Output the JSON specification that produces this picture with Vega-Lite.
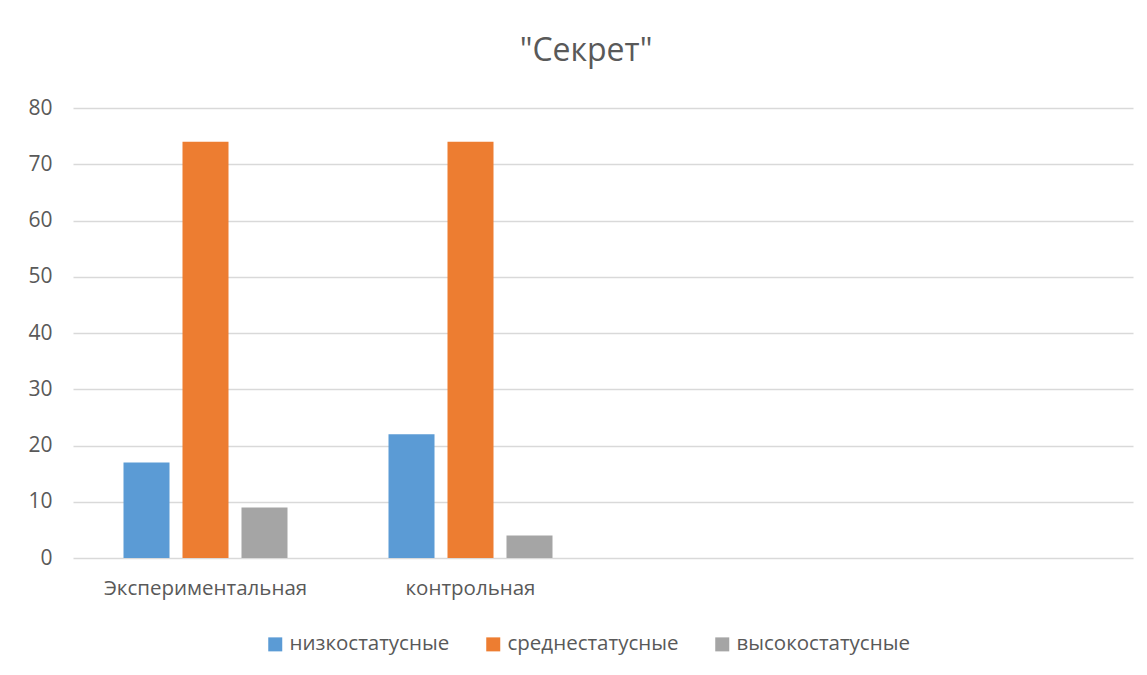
{
  "$schema": "https://vega.github.io/schema/vega-lite/v6.json",
  "width": 1060,
  "height": 450,
  "autosize": {"type": "none"},
  "padding": {"left": 73, "top": 108, "right": 14, "bottom": 117},
  "background": "white",
  "title": {
    "text": "\"Секрет\"",
    "anchor": "middle",
    "frame": "group",
    "dx": -17,
    "offset": 29,
    "fontSize": 32,
    "font": "Open Sans",
    "fontWeight": "normal",
    "color": "#595959"
  },
  "data": {
    "values": [
      {"group": "Экспериментальная", "status": "низкостатусные", "value": 17},
      {"group": "Экспериментальная", "status": "среднестатусные", "value": 74},
      {"group": "Экспериментальная", "status": "высокостатусные", "value": 9},
      {"group": "контрольная", "status": "низкостатусные", "value": 22},
      {"group": "контрольная", "status": "среднестатусные", "value": 74},
      {"group": "контрольная", "status": "высокостатусные", "value": 4}
    ]
  },
  "mark": {"type": "bar"},
  "encoding": {
    "x": {
      "field": "group",
      "type": "nominal",
      "sort": null,
      "scale": {"domain": ["Экспериментальная", "контрольная", " ", "  "], "paddingInner": 0, "paddingOuter": 0},
      "axis": {
        "title": null,
        "labelAngle": 0,
        "ticks": false,
        "domain": false,
        "labelPadding": 20,
        "labelLimit": 0,
        "labelFontSize": 20.5,
        "labelFont": "Open Sans",
        "labelColor": "#595959"
      }
    },
    "xOffset": {
      "field": "status",
      "type": "nominal",
      "sort": ["низкостатусные", "среднестатусные", "высокостатусные"],
      "scale": {"paddingInner": 0.22, "paddingOuter": 0.856}
    },
    "y": {
      "field": "value",
      "type": "quantitative",
      "scale": {"domain": [0, 80], "nice": false},
      "axis": {
        "title": null,
        "values": [0, 10, 20, 30, 40, 50, 60, 70, 80],
        "ticks": false,
        "domain": false,
        "labelPadding": 21,
        "labelFontSize": 21,
        "labelFont": "Open Sans",
        "labelColor": "#595959",
        "gridColor": "#d9d9d9",
        "gridWidth": 1.5
      }
    },
    "color": {
      "field": "status",
      "type": "nominal",
      "sort": ["низкостатусные", "среднестатусные", "высокостатусные"],
      "scale": {
        "domain": ["низкостатусные", "среднестатусные", "высокостатусные"],
        "range": ["#5B9BD5", "#ED7D31", "#A5A5A5"]
      },
      "legend": {
        "title": null,
        "orient": "none",
        "direction": "horizontal",
        "legendX": 192,
        "legendY": 526,
        "symbolType": "square",
        "symbolSize": 196,
        "symbolStrokeWidth": 0,
        "symbolOpacity": 1,
        "labelFontSize": 20.5,
        "labelFont": "Open Sans",
        "labelColor": "#595959",
        "labelLimit": 0,
        "columnPadding": 33,
        "labelOffset": 4
      }
    }
  },
  "config": {
    "view": {"stroke": null}
  }
}
